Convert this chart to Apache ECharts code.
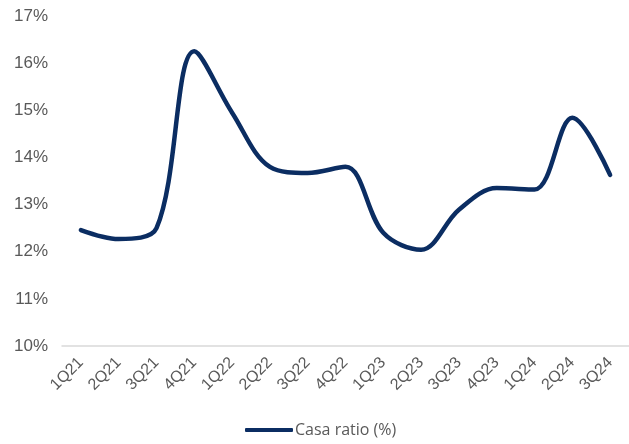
<!DOCTYPE html>
<html>
<head>
<meta charset="utf-8">
<script src="https://cdn.jsdelivr.net/npm/echarts@6/dist/echarts.min.js"></script>
<style>
  html, body { margin: 0; padding: 0; background: #fff; }
  #chart { width: 629px; height: 444px; }
</style>
</head>
<body>
<div id="chart"></div>
<script>
// Quarterly CASA ratio, in percent
const quarters = ['1Q21', '2Q21', '3Q21', '4Q21', '1Q22', '2Q22', '3Q22', '4Q22',
                  '1Q23', '2Q23', '3Q23', '4Q23', '1Q24', '2Q24', '3Q24'];
const casaRatio = [12.46, 12.27, 12.50, 16.25, 14.95, 13.80, 13.67, 13.80,
                   12.40, 12.04, 12.89, 13.35, 13.32, 14.84, 13.63];
const yTicks = { min: 10, max: 17, step: 1 };

const textColor = '#595959';
const lineColor = '#0b2d62';

const chart = echarts.init(document.getElementById('chart'));
chart.setOption({
  animation: false,
  grid: { left: 62, right: 0, top: 16, bottom: 98 },
  legend: {
    bottom: 1,
    left: 240,
    itemWidth: 48,
    itemHeight: 4,
    itemGap: 2,
    icon: 'roundRect',
    textStyle: { color: textColor, fontSize: 16, fontFamily: 'Open Sans', padding: [0, 0, 0, -3] },
    data: ['Casa ratio (%)']
  },
  xAxis: {
    type: 'category',
    data: quarters,
    boundaryGap: true,
    axisLine: { lineStyle: { color: '#d9d9d9', width: 1.5 } },
    axisTick: { show: false },
    axisLabel: {
      rotate: 45,
      interval: 0,
      margin: 14,
      color: textColor,
      fontSize: 16,
      fontFamily: 'Liberation Sans'
    }
  },
  yAxis: {
    type: 'value',
    min: yTicks.min,
    max: yTicks.max,
    interval: yTicks.step,
    splitLine: { show: false },
    axisLine: { show: false },
    axisTick: { show: false },
    axisLabel: {
      margin: 14,
      color: textColor,
      fontSize: 17,
      fontFamily: 'Liberation Sans',
      formatter: v => v + '%'
    }
  },
  series: [{
    name: 'Casa ratio (%)',
    type: 'line',
    data: casaRatio,
    smooth: 0.35,
    symbol: 'none',
    lineStyle: { color: lineColor, width: 4.5, cap: 'round' },
    itemStyle: { color: lineColor }
  }]
});
</script>
</body>
</html>
